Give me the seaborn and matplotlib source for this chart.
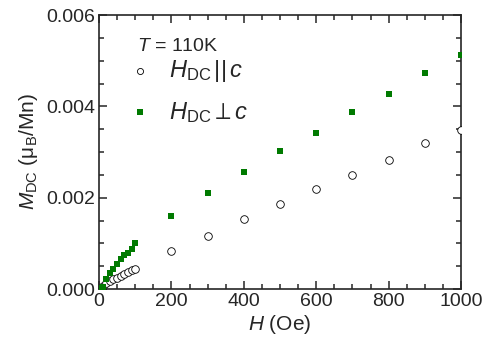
import matplotlib
matplotlib.use("Agg")
import matplotlib.pyplot as plt
import seaborn as sns
import pandas as pd
from matplotlib.ticker import MultipleLocator, FormatStrFormatter

# Data
H_par = [2, 10, 20, 30, 40, 50, 60, 70, 80, 90, 100,
         200, 300, 400, 500, 600, 700, 800, 900, 1000]
M_par = [0.00001, 0.00006, 0.00013, 0.00017, 0.00021, 0.00025, 0.00029, 0.00033,
         0.00037, 0.00041, 0.000445,
         0.00083, 0.00117, 0.00153, 0.00186, 0.00219, 0.00249, 0.002825, 0.00319, 0.00348]
H_perp = [2, 10, 20, 30, 40, 50, 60, 70, 80, 90, 100,
          200, 300, 400, 500, 600, 700, 800, 900, 1000]
M_perp = [0.00003, 0.00005, 0.000226, 0.000343, 0.00043, 0.000547, 0.00065, 0.000737,
          0.000795, 0.000876, 0.001,
          0.0016, 0.0021, 0.002555, 0.003015, 0.003423, 0.00387, 0.00427, 0.004723, 0.005124]

x_ticks = [0, 200, 400, 600, 800, 1000]
y_ticks = [0.000, 0.002, 0.004, 0.006]

sns.set_style("ticks")
plt.rcParams['font.family'] = ['Liberation Sans', 'DejaVu Sans']
plt.rcParams['mathtext.fontset'] = 'custom'
plt.rcParams['mathtext.rm'] = 'Liberation Sans'
plt.rcParams['mathtext.it'] = 'Liberation Sans:italic'
plt.rcParams['mathtext.bf'] = 'Liberation Sans:bold'

df_par = pd.DataFrame({"H": H_par, "M": M_par})
df_perp = pd.DataFrame({"H": H_perp, "M": M_perp})

fig = plt.figure(figsize=(4.86, 3.52), dpi=100)
ax = fig.add_axes([99/486, 1 - 289/352, (461-99)/486, (289-15)/352])

sns.scatterplot(data=df_par, x="H", y="M", ax=ax, marker="o", s=30,
                facecolor="white", edgecolor="black", linewidth=0.6,
                label=r"$H_{\rm DC}\,||\,c$", zorder=3)
sns.scatterplot(data=df_perp, x="H", y="M", ax=ax, marker="s", s=22,
                color="#007a00", edgecolor="#007a00", linewidth=0,
                label=r"$H_{\rm DC}\perp c$", zorder=4)

ax.set_xlim(0, 1000)
ax.set_ylim(0, 0.006)
ax.set_xticks(x_ticks)
ax.set_yticks(y_ticks)
ax.xaxis.set_minor_locator(MultipleLocator(50))
ax.yaxis.set_minor_locator(MultipleLocator(0.0005))
ax.yaxis.set_major_formatter(FormatStrFormatter('%.3f'))
ax.tick_params(which='both', direction='in', top=True, right=True, width=1.1)
ax.tick_params(which='major', length=6, labelsize=14, pad=3)
ax.tick_params(which='minor', length=3.5)
for sp in ax.spines.values():
    sp.set_linewidth(1.2)
    sp.set_visible(True)

ax.set_xlabel(r"$H$ (Oe)", fontsize=15, labelpad=2)
ax.set_ylabel(r"$M_{\rm DC}$ (μ$_{\rm B}$/Mn)", fontsize=15, labelpad=4)

ax.text(0.105, 0.885, r"$T$ = 110K", transform=ax.transAxes, fontsize=14,
        ha='left', va='center')
leg = ax.legend(loc='upper left', bbox_to_anchor=(0.08, 0.842), frameon=False,
                fontsize=17, handlelength=1.0, handletextpad=0.75,
                labelspacing=0.65, borderaxespad=0, borderpad=0,
                markerscale=0.8)

fig.savefig("out.png", dpi=100)
